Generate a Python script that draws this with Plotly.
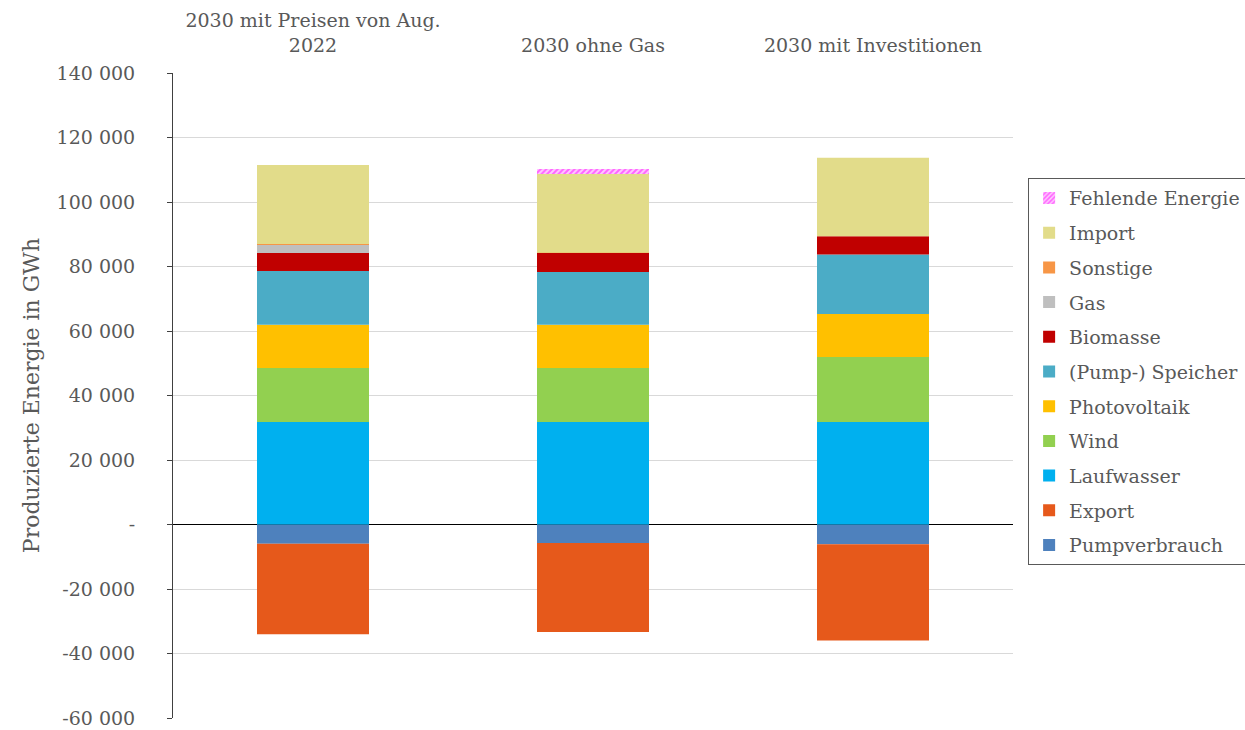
import plotly.graph_objects as go

# Szenarien (Kategorien der x-Achse)
szenarien = ["2030 mit Preisen von Aug.<br>2022", "2030 ohne Gas", "2030 mit Investitionen"]

# Energiemengen in GWh je Technologie und Szenario
pumpverbrauch = [-6000, -5700, -6100]
export = [-28000, -27600, -29900]
laufwasser = [31800, 31800, 31800]
wind = [16700, 16700, 20100]
photovoltaik = [13400, 13400, 13400]
speicher = [16700, 16400, 18400]
biomasse = [5600, 5900, 5700]
gas = [2500, 0, 0]
sonstige = [300, 100, 0]
importe = [24500, 24400, 24300]
fehlende_energie = [0, 1550, 0]

# Achsenbeschriftung der y-Achse
y_ticks = [-60000, -40000, -20000, 0, 20000, 40000, 60000, 80000, 100000, 120000, 140000]
y_ticktext = ["-60 000", "-40 000", "-20 000", "-", "20 000", "40 000", "60 000",
              "80 000", "100 000", "120 000", "140 000"]

serien = [
    ("Pumpverbrauch", pumpverbrauch, "#4e81bd"),
    ("Export", export, "#e6591b"),
    ("Laufwasser", laufwasser, "#00b0ef"),
    ("Wind", wind, "#92d050"),
    ("Photovoltaik", photovoltaik, "#ffc000"),
    ("(Pump-) Speicher", speicher, "#4bacc6"),
    ("Biomasse", biomasse, "#c00000"),
    ("Gas", gas, "#bfbfbf"),
    ("Sonstige", sonstige, "#f79646"),
    ("Import", importe, "#e2dc8a"),
]

fig = go.Figure()
# Stapelreihenfolge von unten nach oben; Legende zeigt die oberste Serie zuerst
for rang, (name, werte, farbe) in enumerate(serien):
    fig.add_trace(go.Bar(
        x=szenarien, y=werte, name=name, legendgroup=name,
        legendrank=100 - rang,
        marker=dict(color=farbe, line=dict(width=0)),
    ))

fig.add_trace(go.Bar(
    x=szenarien, y=fehlende_energie, name="Fehlende Energie", legendgroup="Fehlende Energie",
    legendrank=1,
    marker=dict(
        color="#ffb3ff",
        line=dict(width=0),
        pattern=dict(shape="/", fgcolor="#ff00ff", bgcolor="#ffc8ff", size=4, solidity=0.5),
    ),
))

textfarbe = "#595959"
schrift = "DejaVu Serif"

fig.update_layout(
    width=1245, height=730,
    barmode="relative",
    bargap=0.6,
    plot_bgcolor="white",
    paper_bgcolor="white",
    margin=dict(l=173, r=232, t=73, b=12, autoexpand=False),
    font=dict(family=schrift, color=textfarbe, size=19),
    showlegend=True,
    legend=dict(
        traceorder="grouped",
        x=1.018, y=0.837, xanchor="left", yanchor="top",
        bordercolor="#595959", borderwidth=1,
        font=dict(family=schrift, size=19, color=textfarbe),
        itemwidth=30,
        tracegroupgap=7,
    ),
    xaxis=dict(
        side="top",
        showgrid=False,
        showline=False,
        ticks="",
        automargin=False,
        ticklabelstandoff=16,
        tickfont=dict(family=schrift, size=19, color=textfarbe),
    ),
    yaxis=dict(
        range=[-60000, 140000],
        tickvals=y_ticks,
        ticktext=y_ticktext,
        automargin=False,
        showgrid=True,
        gridcolor="#d9d9d9",
        gridwidth=1,
        zeroline=True,
        zerolinecolor="#000000",
        zerolinewidth=1,
        showline=True,
        linecolor="#404040",
        linewidth=1,
        ticks="outside",
        ticklen=5,
        tickcolor="#404040",
        ticklabelstandoff=28,
        tickfont=dict(family=schrift, size=19, color=textfarbe),
        title=dict(text="Produzierte Energie in GWh",
                   font=dict(family=schrift, size=22, color=textfarbe),
                   standoff=10),
    ),
)

fig.write_html("out.html")
